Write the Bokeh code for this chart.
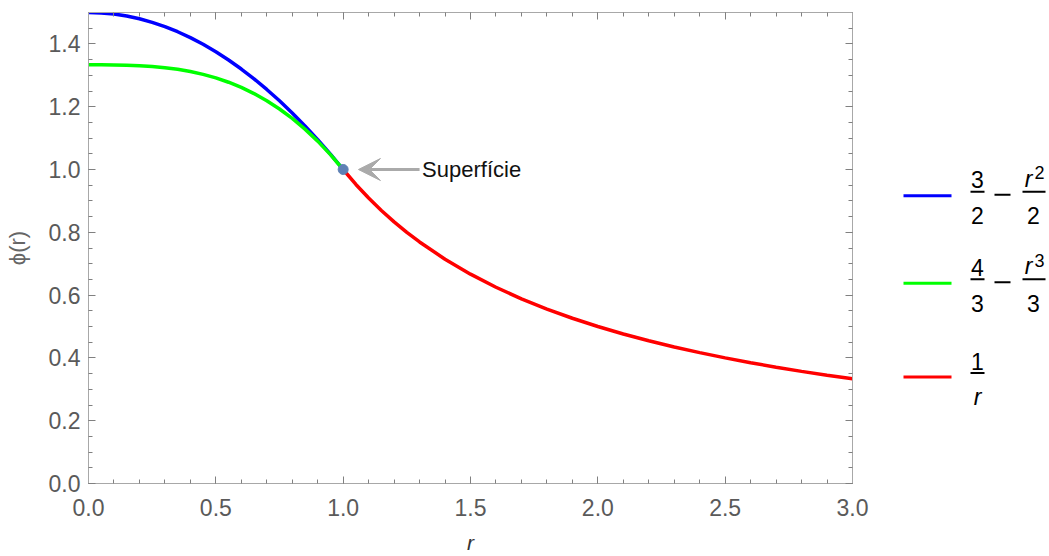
from bokeh.plotting import figure
from bokeh.models import (Range1d, LinearAxis, SingleIntervalTicker, NumeralTickFormatter,
                          CustomJSTickFormatter, Arrow, VeeHead, Label)
from bokeh.layouts import row
from bokeh.core.properties import value
from bokeh.embed import file_html
from bokeh.resources import INLINE

# ---- data ----
r_inner = [0.0, 0.05, 0.1, 0.15, 0.2, 0.25, 0.3, 0.35, 0.4, 0.45, 0.5,
           0.55, 0.6, 0.65, 0.7, 0.75, 0.8, 0.85, 0.9, 0.95, 1.0]
phi_quad = [1.5, 1.49875, 1.495, 1.48875, 1.48, 1.46875, 1.455, 1.43875, 1.42, 1.39875, 1.375,
            1.34875, 1.32, 1.28875, 1.255, 1.21875, 1.18, 1.13875, 1.095, 1.04875, 1.0]
phi_cubic = [1.3333, 1.3333, 1.3330, 1.3322, 1.3307, 1.3281, 1.3243, 1.3190, 1.3120, 1.3030, 1.2917,
             1.2779, 1.2613, 1.2418, 1.2190, 1.1927, 1.1627, 1.1286, 1.0903, 1.0475, 1.0]
r_outer = [1.0, 1.05, 1.1, 1.15, 1.2, 1.25, 1.3, 1.4, 1.5, 1.6, 1.7, 1.8, 1.9, 2.0,
           2.1, 2.2, 2.3, 2.4, 2.5, 2.6, 2.7, 2.8, 2.9, 3.0]
phi_inv = [1.0, 0.9524, 0.9091, 0.8696, 0.8333, 0.8, 0.7692, 0.7143, 0.6667, 0.625, 0.5882, 0.5556,
           0.5263, 0.5, 0.4762, 0.4545, 0.4348, 0.4167, 0.4, 0.3846, 0.3704, 0.3571, 0.3448, 0.3333]
surface_r = [1.0]
surface_phi = [1.0]
annot_text = "Superfície"
arrow_tail_x = 1.30
arrow_tip_x = 1.06
text_x = 1.31

series_colors = ["#0000ff", "#00ff00", "#ff0000"]

FONT = "Liberation Sans"
GRAY = "#5a5a5a"
FRAME = "#a8a8a8"
TICK = "#808080"

BORDER_TOP = 12
BORDER_BOTTOM = 71
H = 556

p = figure(width=872, height=H, x_range=Range1d(0, 3), y_range=Range1d(0, 1.5),
           output_backend="svg", toolbar_location=None,
           x_axis_type=None, y_axis_type=None,
           min_border_left=88, min_border_right=20, min_border_top=BORDER_TOP,
           min_border_bottom=BORDER_BOTTOM)
p.outline_line_color = FRAME
p.background_fill_color = "white"
p.border_fill_color = "white"


def style_axis(ax, show_labels):
    ax.axis_line_color = FRAME
    ax.major_tick_line_color = TICK
    ax.minor_tick_line_color = TICK
    ax.major_tick_in = 7
    ax.major_tick_out = 0
    ax.minor_tick_in = 4
    ax.minor_tick_out = 0
    if show_labels:
        ax.major_label_text_font = FONT
        ax.major_label_text_font_size = "23px"
        ax.major_label_text_color = GRAY
    else:
        ax.major_label_text_font_size = "0px"
        ax.major_label_standoff = 0


xt = dict(interval=0.5, num_minor_ticks=5)
yt = dict(interval=0.2, num_minor_ticks=4)

xaxis = LinearAxis(ticker=SingleIntervalTicker(**xt), formatter=NumeralTickFormatter(format="0.0"),
                   axis_label="r")
style_axis(xaxis, True)
xaxis.major_label_standoff = 15
xaxis.axis_label_standoff = 12
xaxis.axis_label_text_font = FONT
xaxis.axis_label_text_font_size = "21px"
xaxis.axis_label_text_font_style = "italic"
xaxis.axis_label_text_color = "#333333"
p.add_layout(xaxis, "below")

yaxis = LinearAxis(ticker=SingleIntervalTicker(**yt), formatter=NumeralTickFormatter(format="0.0"),
                   axis_label="ϕ(r)")
style_axis(yaxis, True)
yaxis.major_label_standoff = 8
yaxis.axis_label_standoff = 16
yaxis.axis_label_text_font = FONT
yaxis.axis_label_text_font_size = "22px"
yaxis.axis_label_text_font_style = "normal"
yaxis.axis_label_text_color = "#666666"
p.add_layout(yaxis, "left")

blank = CustomJSTickFormatter(code="return ''")
xtop = LinearAxis(ticker=SingleIntervalTicker(**xt), formatter=blank)
style_axis(xtop, False)
p.add_layout(xtop, "above")
yright = LinearAxis(ticker=SingleIntervalTicker(**yt), formatter=blank)
style_axis(yright, False)
p.add_layout(yright, "right")

p.line(r_inner, phi_quad, line_color=series_colors[0], line_width=3.5)
p.line(r_inner, phi_cubic, line_color=series_colors[1], line_width=3.5)
p.line(r_outer, phi_inv, line_color=series_colors[2], line_width=3.5)
p.scatter(surface_r, surface_phi, size=10, fill_color="#5e81b5", line_color="#5e81b5")

p.add_layout(Arrow(end=VeeHead(size=22, fill_color="#aaaaaa", line_color="#aaaaaa"),
                   x_start=arrow_tail_x, y_start=surface_phi[0], x_end=arrow_tip_x, y_end=surface_phi[0],
                   line_color="#aaaaaa", line_width=3))
p.add_layout(Label(x=text_x, y=surface_phi[0], text=annot_text, text_font=FONT,
                   text_font_size="22px", text_color="#111111", text_baseline="middle",
                   text_align="left"))

# ---- legend panel (ranges expressed in page pixels of the frame area) ----
lg = figure(width=177, height=H, x_range=Range1d(872, 1049), y_range=Range1d(485, 12),
            output_backend="svg", toolbar_location=None, x_axis_type=None, y_axis_type=None,
            min_border_left=0, min_border_right=0, min_border_top=BORDER_TOP,
            min_border_bottom=BORDER_BOTTOM)
lg.outline_line_color = None
lg.grid.visible = False
lg.background_fill_color = "white"
lg.border_fill_color = "white"

TXT = dict(text_align="center", text_baseline="middle", text_font=value(FONT), text_color="black")

line_y = [196, 284, 378]
bar_y = [192, 280, 374]
lg.segment(x0=[903] * 3, y0=line_y, x1=[951] * 3, y1=line_y, line_color=series_colors, line_width=3)

# first fraction (all three entries)
nums1 = ["3", "4", "1"]
dens1 = ["2", "3", "r"]
dens1_style = ["normal", "normal", "italic"]
lg.segment(x0=[970] * 3, y0=bar_y, x1=[984] * 3, y1=bar_y, line_color="black", line_width=2)
lg.text(x=[977] * 3, y=[b - 12 for b in bar_y], text=nums1, text_font_size="23px", **TXT)
for t, st, b in zip(dens1, dens1_style, bar_y):
    lg.text(x=[977], y=[b + 24], text=[t], text_font_size="23px", text_font_style=st, **TXT)

# minus and second fraction (first two entries)
sup = ["2", "3"]
dens2 = ["2", "3"]
minus_y = [195, 283]
lg.segment(x0=[994] * 2, y0=minus_y, x1=[1010] * 2, y1=minus_y, line_color="black", line_width=2)
lg.segment(x0=[1022] * 2, y0=bar_y[:2], x1=[1045] * 2, y1=bar_y[:2], line_color="black", line_width=2)
lg.text(x=[1028] * 2, y=[b - 13 for b in bar_y[:2]], text=["r", "r"], text_font_size="23px",
        text_font_style="italic", **TXT)
lg.text(x=[1039] * 2, y=[b - 19 for b in bar_y[:2]], text=sup, text_font_size="18px", **TXT)
lg.text(x=[1033] * 2, y=[b + 24 for b in bar_y[:2]], text=dens2, text_font_size="23px", **TXT)

layout = row(p, lg)
open("out.html", "w").write(file_html(layout, INLINE))
